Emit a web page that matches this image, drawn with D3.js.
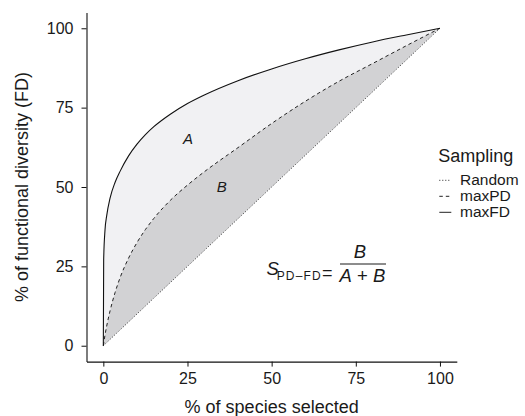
<!DOCTYPE html>
<html>
<head>
<meta charset="utf-8">
<script src="https://cdn.jsdelivr.net/npm/d3@7"></script>
<style>
  body { margin: 0; background: #fff; }
  svg { display: block; font-family: "Liberation Sans", Arial, Helvetica, sans-serif; }
</style>
</head>
<body>
<svg id="chart"></svg>
<script>
// % of species selected (common sampling grid)
const speciesPct = [0, 0.1, 0.5, 1, 2, 3.5, 5, 7.5, 10, 12.5, 15, 20, 25, 30, 40, 50, 60, 70, 80, 90, 100];
// % of functional diversity for each sampling strategy
const fdRandom = [0, 0.1, 0.5, 1, 2, 3.5, 5, 7.5, 10, 12.5, 15, 20, 25, 30, 40, 50, 60, 70, 80, 90, 100];
const fdMaxPD  = [0, 0.7, 3.4, 6.2, 11, 16.8, 21.5, 27.6, 32.5, 36.6, 40.1, 45.9, 50.6, 54.8, 62.4, 70, 77, 83.3, 88.9, 94.5, 100];
const fdMaxFD  = [0, 27, 36.5, 41, 46.5, 51.5, 55, 59.8, 63.5, 66.5, 69, 73, 76.3, 79, 83.5, 87.2, 90.4, 93.2, 95.7, 97.9, 100];

const xTicks = [0, 25, 50, 75, 100];
const yTicks = [0, 25, 50, 75, 100];
const legendLabels = ["Random", "maxPD", "maxFD"];
const legendDash = ["1,2", "3.5,3", null];

const width = 525, height = 416;
const margin = {top: 12.4, right: 68.2, bottom: 54.4, left: 86.5};

const svg = d3.select('#chart').attr('width', width).attr('height', height);

// ggplot-style 5% expansion
const x = d3.scaleLinear().domain([-5, 105]).range([margin.left, width - margin.right]);
const y = d3.scaleLinear().domain([-5, 105]).range([height - margin.bottom, margin.top]);

const rows = speciesPct.map((p, i) => ({p, r: fdRandom[i], pd: fdMaxPD[i], fd: fdMaxFD[i]}));
const curve = d3.curveMonotoneX;

// shaded areas
svg.append('path')
  .attr('fill', '#f1f1f3')
  .attr('d', d3.area().curve(curve).x(d => x(d.p)).y0(d => y(d.pd)).y1(d => y(d.fd))(rows));
svg.append('path')
  .attr('fill', '#d2d2d4')
  .attr('d', d3.area().curve(curve).x(d => x(d.p)).y0(d => y(d.r)).y1(d => y(d.pd))(rows));

// lines
const lineFor = key => d3.line().curve(curve).x(d => x(d.p)).y(d => y(d[key]));
svg.append('path').attr('fill', 'none').attr('stroke', '#333').attr('stroke-width', 1)
  .attr('stroke-dasharray', '1,2').attr('d', lineFor('r')(rows));
svg.append('path').attr('fill', 'none').attr('stroke', '#222').attr('stroke-width', 1)
  .attr('stroke-dasharray', '3.5,3').attr('d', lineFor('pd')(rows));
svg.append('path').attr('fill', 'none').attr('stroke', '#111').attr('stroke-width', 1.1)
  .attr('d', lineFor('fd')(rows));

// axes
const gx = svg.append('g')
  .attr('transform', `translate(0,${height - margin.bottom})`)
  .call(d3.axisBottom(x).tickValues(xTicks).tickSize(5).tickSizeOuter(0).tickPadding(6.5));
const gy = svg.append('g')
  .attr('transform', `translate(${margin.left},0)`)
  .call(d3.axisLeft(y).tickValues(yTicks).tickSize(5).tickSizeOuter(0).tickPadding(8));
[gx, gy].forEach(g => {
  g.select('.domain').attr('stroke', '#111').attr('stroke-width', 1.1);
  g.selectAll('.tick line').attr('stroke', '#111');
  g.selectAll('.tick text').attr('fill', '#1a1a1a')
    .style('font-size', '16px').style('font-family', '"Liberation Sans", Arial, sans-serif');
});

// axis titles
svg.append('text')
  .attr('x', x(50)).attr('y', 413.3).attr('text-anchor', 'middle')
  .attr('font-size', 18).attr('fill', '#1a1a1a')
  .text('% of species selected');
svg.append('text')
  .attr('transform', `translate(28.3,${y(50)}) rotate(-90)`).attr('text-anchor', 'middle')
  .attr('font-size', 18).attr('fill', '#1a1a1a')
  .text('% of functional diversity (FD)');

// region labels
svg.append('text').attr('x', 188).attr('y', 144).attr('text-anchor', 'middle')
  .attr('font-size', 15).attr('font-style', 'italic').attr('fill', '#1a1a1a').text('A');
svg.append('text').attr('x', 221.7).attr('y', 191.7).attr('text-anchor', 'middle')
  .attr('font-size', 15).attr('font-style', 'italic').attr('fill', '#1a1a1a').text('B');

// formula
const f = svg.append('g').attr('fill', '#1a1a1a');
f.append('text').attr('x', 266.5).attr('y', 275).attr('font-size', 18.5)
  .attr('font-style', 'italic').text('S');
f.append('text').attr('x', 276.7).attr('y', 279.5).attr('font-size', 12)
  .attr('textLength', 44).attr('lengthAdjust', 'spacing').text('PD–FD');
f.append('text').attr('x', 322).attr('y', 278.5).attr('font-size', 18).text('=');
f.append('line').attr('x1', 340).attr('x2', 386).attr('y1', 264).attr('y2', 264)
  .attr('stroke', '#1a1a1a').attr('stroke-width', 1);
f.append('text').attr('x', 360).attr('y', 258.3).attr('text-anchor', 'middle')
  .attr('font-size', 18.5).attr('font-style', 'italic').text('B');
const den = f.append('text').attr('x', 362.5).attr('y', 281.7).attr('text-anchor', 'middle')
  .attr('font-size', 18.5);
den.append('tspan').attr('font-style', 'italic').text('A');
den.append('tspan').text(' + ');
den.append('tspan').attr('font-style', 'italic').text('B');

// legend
const lg = svg.append('g').attr('transform', 'translate(438.3,0)');
lg.append('text').attr('x', 0).attr('y', 162).attr('font-size', 18).attr('fill', '#1a1a1a').text('Sampling');
legendLabels.forEach((lab, i) => {
  const by = 185.3 + i * 16;
  lg.append('line').attr('x1', 1).attr('x2', 13).attr('y1', by - 5).attr('y2', by - 5)
    .attr('stroke', '#222').attr('stroke-width', 1)
    .attr('stroke-dasharray', legendDash[i]);
  lg.append('text').attr('x', 21.7).attr('y', by).attr('font-size', 15.5)
    .attr('fill', '#1a1a1a').text(lab);
});
</script>
</body>
</html>
